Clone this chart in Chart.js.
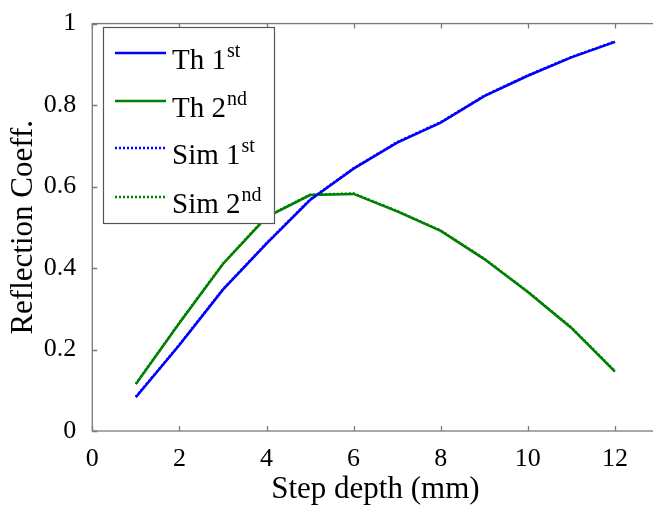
<!DOCTYPE html>
<html>
<head>
<meta charset="utf-8">
<script src="https://cdn.jsdelivr.net/npm/chart.js@4/dist/chart.umd.min.js"></script>
<style>
  html, body { margin: 0; padding: 0; background: #fff; overflow: hidden; }
  #wrap { width: 662px; height: 511px; }
</style>
</head>
<body>
<div id="wrap"><canvas id="c" width="662" height="511"></canvas></div>
<script>
// Step depth (mm)
const depths = [1, 2, 3, 4, 5, 6, 7, 8, 9, 10, 11, 12];
// Theory, first and second reflections
const th1 = [0.083, 0.211, 0.347, 0.460, 0.567, 0.644, 0.708, 0.757, 0.822, 0.872, 0.917, 0.955];
const th2 = [0.115, 0.265, 0.410, 0.525, 0.579, 0.582, 0.539, 0.491, 0.422, 0.341, 0.253, 0.146];
// Simulation, first and second reflections
const sim1 = [0.084, 0.212, 0.348, 0.461, 0.568, 0.645, 0.709, 0.758, 0.823, 0.873, 0.918, 0.956];
const sim2 = [0.116, 0.266, 0.411, 0.526, 0.580, 0.583, 0.540, 0.492, 0.423, 0.342, 0.254, 0.147];
// Axis ticks
const xTicks = [0, 2, 4, 6, 8, 10, 12];
const yTicks = [0, 0.2, 0.4, 0.6, 0.8, 1];
// Legend entries: main text and superscript
const legendMain = ['Th 1', 'Th 2', 'Sim 1', 'Sim 2'];
const legendSup = ['st', 'nd', 'st', 'nd'];

const BLUE = '#0000ff';
const GREEN = '#008000';
const SERIF = "'Liberation Serif', 'Times New Roman', serif";

const pts = (ys) => depths.map((x, i) => ({ x: x, y: ys[i] }));

const series = [
  { data: pts(th1), borderColor: BLUE, borderDash: [], order: 2 },
  { data: pts(th2), borderColor: GREEN, borderDash: [], order: 2 },
  { data: pts(sim1), borderColor: BLUE, borderDash: [2, 2], order: 1 },
  { data: pts(sim2), borderColor: GREEN, borderDash: [2, 2], order: 1 }
];

// Box around the plot with inward tick marks on all four sides
const boxPlugin = {
  id: 'box',
  afterDatasetsDraw(chart) {
    const { ctx, chartArea: a, scales } = chart;
    ctx.save();
    ctx.strokeStyle = '#7a7a7a';
    ctx.lineWidth = 1.3;
    ctx.strokeRect(a.left, a.top, a.right - a.left, a.bottom - a.top);
    const L = 5;
    ctx.beginPath();
    xTicks.forEach(v => {
      const px = Math.round(scales.x.getPixelForValue(v)) + 0.5;
      ctx.moveTo(px, a.bottom); ctx.lineTo(px, a.bottom - L);
      ctx.moveTo(px, a.top); ctx.lineTo(px, a.top + L);
    });
    yTicks.forEach(v => {
      const py = Math.round(scales.y.getPixelForValue(v)) + 0.5;
      ctx.moveTo(a.left, py); ctx.lineTo(a.left + L, py);
      ctx.moveTo(a.right, py); ctx.lineTo(a.right - L, py);
    });
    ctx.stroke();
    ctx.restore();
  }
};

// Boxed legend with superscript ordinals
const legendPlugin = {
  id: 'supLegend',
  afterDraw(chart) {
    const { ctx } = chart;
    const bx = 103.5, by = 27.5, bw = 171, bh = 196;
    ctx.save();
    ctx.fillStyle = '#fff';
    ctx.fillRect(bx, by, bw, bh);
    ctx.strokeStyle = '#555';
    ctx.lineWidth = 1.2;
    ctx.strokeRect(bx, by, bw, bh);
    const rowY = [53, 101, 148, 197];
    series.forEach((s, i) => {
      const y = rowY[i];
      ctx.beginPath();
      ctx.strokeStyle = s.borderColor;
      ctx.lineWidth = 2.5;
      ctx.setLineDash(s.borderDash);
      ctx.moveTo(115, y); ctx.lineTo(166, y);
      ctx.stroke();
      ctx.setLineDash([]);
      ctx.fillStyle = '#000';
      ctx.textBaseline = 'alphabetic';
      ctx.font = '29px ' + SERIF;
      const base = y + 16;
      ctx.fillText(legendMain[i], 172, base);
      const w = ctx.measureText(legendMain[i]).width;
      ctx.font = '20px ' + SERIF;
      ctx.fillText(legendSup[i], 172 + w + 1, base - 12);
    });
    ctx.restore();
  }
};

function draw() {
  new Chart(document.getElementById('c'), {
    type: 'line',
    data: {
      datasets: series.map(s => ({
        data: s.data,
        borderColor: s.borderColor,
        borderDash: s.borderDash,
        borderWidth: 2.5,
        pointRadius: 0,
        tension: 0,
        fill: false,
        order: s.order
      }))
    },
    options: {
      responsive: false,
      animation: false,
      devicePixelRatio: 1,
      layout: { padding: { top: 18, right: 3.5, left: 0, bottom: 0 } },
      plugins: { legend: { display: false }, tooltip: { enabled: false } },
      scales: {
        x: {
          type: 'linear',
          min: 0, max: 13,
          afterBuildTicks: (sc) => { sc.ticks = xTicks.map(v => ({ value: v })); },
          afterFit: (sc) => { sc.height = 80; },
          grid: { display: false },
          border: { display: false },
          ticks: { color: '#000', font: { family: SERIF, size: 26 }, padding: 5, maxRotation: 0,
                   callback: (v) => String(v) },
          title: { display: true, text: 'Step depth (mm)', color: '#000', font: { family: SERIF, size: 31 }, padding: { top: 0, bottom: 3 } }
        },
        y: {
          type: 'linear',
          min: 0, max: 1,
          afterBuildTicks: (sc) => { sc.ticks = yTicks.map(v => ({ value: v })); },
          afterFit: (sc) => { sc.width = 92.3; },
          grid: { display: false },
          border: { display: false },
          ticks: { color: '#000', font: { family: SERIF, size: 26 }, padding: 8,
                   callback: (v) => String(Math.round(v * 10) / 10) },
          title: { display: true, text: 'Reflection Coeff.', color: '#000', font: { family: SERIF, size: 31 }, padding: { top: 5, bottom: 0 } }
        }
      }
    },
    plugins: [boxPlugin, legendPlugin]
  });
}

if (document.fonts && document.fonts.load) {
  Promise.all([
    document.fonts.load("31px 'Liberation Serif'"),
    document.fonts.load("20px 'Liberation Serif'")
  ]).then(draw, draw);
} else {
  draw();
}
</script>
</body>
</html>
